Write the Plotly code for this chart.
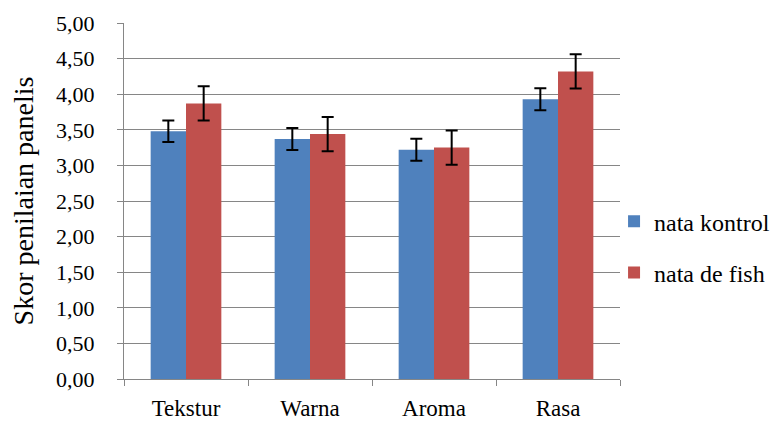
import plotly.graph_objects as go

categories = ["Tekstur", "Warna", "Aroma", "Rasa"]
kontrol = [3.48, 3.37, 3.22, 3.93]
kontrol_err = [0.15, 0.155, 0.155, 0.155]
fish = [3.87, 3.44, 3.25, 4.32]
fish_err = [0.24, 0.24, 0.24, 0.24]
y_ticks = [0, 0.5, 1, 1.5, 2, 2.5, 3, 3.5, 4, 4.5, 5]

FONT = "Times New Roman, Liberation Serif, serif"

fig = go.Figure()
fig.add_trace(go.Bar(
    x=categories, y=kontrol, name="nata kontrol", legendgroup="a",
    marker=dict(color="#4F81BD", line=dict(width=0)),
    error_y=dict(type="data", array=kontrol_err, color="black", thickness=2, width=6),
))
fig.add_trace(go.Bar(
    x=categories, y=fish, name="nata de fish", legendgroup="b",
    marker=dict(color="#C0504D", line=dict(width=0)),
    error_y=dict(type="data", array=fish_err, color="black", thickness=2, width=6),
))

fig.update_layout(
    template="none",
    width=770, height=413,
    margin=dict(l=116, r=158, t=15, b=42, autoexpand=False),
    paper_bgcolor="white", plot_bgcolor="white",
    barmode="group", bargap=0.43, bargroupgap=0,
    separators=",.",
    font=dict(family=FONT, size=22, color="black"),
    legend=dict(x=0.988, y=0.505, xanchor="left", yanchor="top",
                font=dict(family=FONT, size=24), tracegroupgap=17,
                itemwidth=30, bgcolor="rgba(0,0,0,0)"),
    showlegend=True,
)
fig.update_yaxes(
    range=[0, 5], tickvals=y_ticks, tickformat=".2f",
    showgrid=True, gridcolor="#868686", gridwidth=1,
    showline=True, linecolor="#868686", linewidth=1,
    ticks="outside", ticklen=6, tickcolor="#868686",
    ticklabelstandoff=18, automargin=False,
    title=dict(text="Skor penilaian panelis", font=dict(family=FONT, size=28), standoff=24),
    tickfont=dict(family=FONT, size=22), zeroline=False,
)
fig.update_xaxes(
    showline=True, linecolor="#868686", linewidth=1, showgrid=False,
    ticks="outside", ticklen=6, tickcolor="#868686", tickson="boundaries",
    ticklabelstandoff=8, automargin=False,
    tickfont=dict(family=FONT, size=23),
)

fig.write_html("out.html")
